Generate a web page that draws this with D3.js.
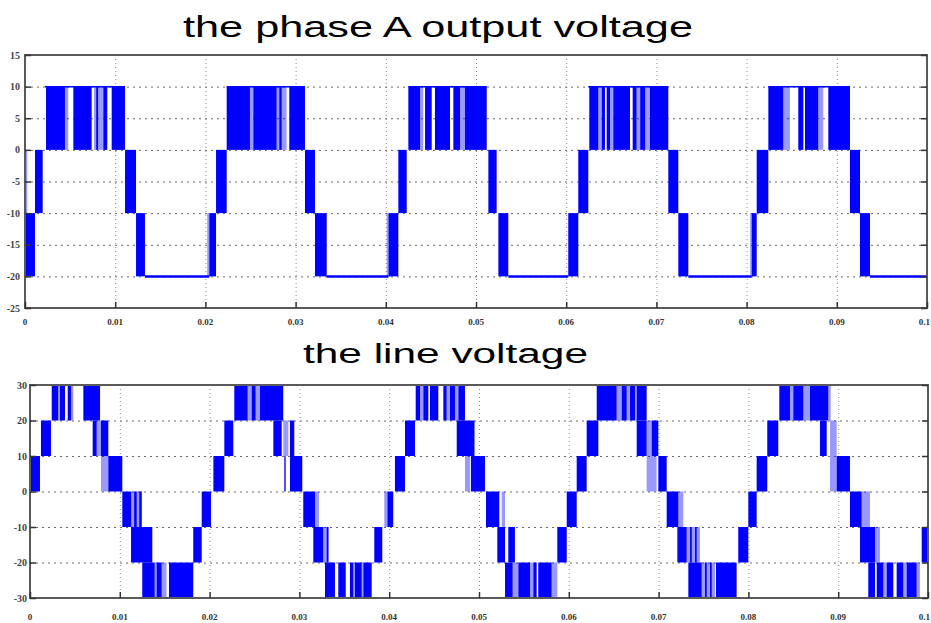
<!DOCTYPE html>
<html><head><meta charset="utf-8">
<script src="https://cdn.jsdelivr.net/npm/d3@7/dist/d3.min.js"></script>
<style>body{margin:0;background:#fff}svg{display:block}</style>
</head><body>
<svg id="c" width="931" height="623"></svg>
<script>
// ---------- shared ticks ----------
const xTickValues = [0,10,20,30,40,50,60,70,80,90,100]; // ms
const xTickLabels = ["0","0.01","0.02","0.03","0.04","0.05","0.06","0.07","0.08","0.09","0.1"];
const phaseYTicks = [15,10,5,0,-5,-10,-15,-20,-25];
const lineYTicks = [30,20,10,0,-10,-20,-30];

// ---------- phase A output voltage (ms, lo, hi) ----------
const phaseSolid = [
 [0.1,1.11,-20,-10],[1.11,1.96,-10,0],[2.33,4.43,0,10],[5.36,7.39,0,10],[7.9,8.1,0,10],[8.68,9.12,0,10],[9.61,11.09,0,10],[11.09,12.31,-10,0],[12.31,13.3,-20,-10],
 [20.43,21.18,-20,-10],[21.18,22.36,-10,0],[22.36,24.94,0,10],[25.31,27.9,0,10],[28.2,28.45,0,10],[29.3,31.04,0,10],[31.04,32.15,-10,0],[32.15,33.45,-20,-10],
 [40.3,41.39,-20,-10],[41.39,42.32,-10,0],[42.5,43.8,0,10],[44.35,45.09,0,10],[45.45,47.12,0,10],[47.49,48.23,0,10],[48.78,51.19,0,10],[51.37,52.29,-10,0],[52.48,53.58,-20,-10],
 [60.23,61.34,-20,-10],[61.34,62.45,-10,0],[62.56,63.56,0,10],[63.94,64.3,0,10],[64.49,64.86,0,10],[65.22,67.07,0,10],[67.37,67.81,0,10],[68.2,68.76,0,10],[69.29,71.32,0,10],[71.32,72.43,-10,0],[72.43,73.54,-20,-10],
 [80.56,81.12,-20,-10],[81.12,82.41,-10,0],[82.41,84.07,0,10],[85.73,86.29,0,10],[86.47,87.95,0,10],[89.06,91.46,0,10],[91.46,92.57,-10,0],[92.57,93.68,-20,-10]
];
const phaseLight = [
 [0,0.25,-10,0],[4.43,4.8,0,10],[7.65,8.68,0,10],[20.2,20.43,-20,-10],[24.94,25.31,0,10],[27.9,29.0,0,10],
 [40.1,40.3,-20,-10],[43.8,44.15,0,10],[48.23,48.78,0,10],[63.56,63.94,0,10],[64.86,65.22,0,10],[67.81,68.2,0,10],[68.76,69.29,0,10],
 [80.4,80.56,-20,-10],[84.07,84.8,0,10],[87.95,88.5,0,10]
];
const phaseLow = [[13.3,20.43],[33.45,40.3],[53.58,60.23],[73.54,80.56],[93.68,100]]; // at -20
const phaseHigh = [[2.22,11.09],[22.36,31.04],[42.5,51.19],[62.45,71.32],[82.41,91.46]]; // at 10

// ---------- line voltage (ms, lo, hi) ----------
const lineSolid = [
 [0,1.11,0,10],[1.22,2.34,10,20],[2.42,3.14,20,30],[3.34,3.9,20,30],[4.2,4.57,20,30],[5.94,7.8,20,30],[6.98,7.43,10,20],[7.9,8.72,10,20],[8.72,10.28,0,10],
 [10.28,11.28,-10,0],[11.6,11.88,-10,0],[12.17,12.44,-10,0],[11.25,13.62,-20,-10],[12.5,13.89,-30,-20],[14.1,14.67,-30,-20],[15.48,18.18,-30,-20],[18.18,19.12,-20,-10],[19.12,20.16,-10,0],
 [20.42,21.64,0,10],[21.64,22.64,10,20],[22.75,24.24,20,30],[24.68,25.13,20,30],[25.61,28.2,20,30],[27.1,28.03,10,20],[28.95,29.43,10,20],[28.32,28.47,0,10],[28.95,30.32,0,10],
 [30.43,31.74,-10,0],[31.55,32.66,-20,-10],[33.04,33.22,-20,-10],[32.85,33.96,-30,-20],[34.33,35.16,-30,-20],[35.63,36.0,-30,-20],[36.19,36.94,-30,-20],[37.12,38.05,-30,-20],[38.34,39.23,-20,-10],[39.8,40.45,-10,0],
 [40.64,41.76,0,10],[41.76,42.87,10,20],[42.95,43.43,20,30],[43.8,44.36,20,30],[44.54,45.47,20,30],[46.03,46.4,20,30],[46.77,47.33,20,30],[47.7,48.44,20,30],[47.52,49.5,10,20],[49.1,50.67,0,10],
 [50.78,52.26,-10,0],[52.04,52.9,-20,-10],[53.26,54.0,-20,-10],[52.9,53.75,-30,-20],[54.38,55.68,-30,-20],[56.05,56.42,-30,-20],[56.6,58.09,-30,-20],[58.72,59.77,-20,-10],[59.77,60.88,-10,0],
 [60.88,61.99,0,10],[61.99,63.29,10,20],[63.11,65.33,20,30],[65.89,66.45,20,30],[66.82,67.37,20,30],[67.56,68.67,20,30],[67.56,68.67,10,20],[69.23,69.97,10,20],[69.97,70.9,0,10],
 [70.9,72.2,-10,0],[72.09,73.13,-20,-10],[73.5,73.69,-20,-10],[74.06,74.24,-20,-10],[73.31,74.8,-30,-20],[75.17,75.36,-30,-20],[75.73,75.91,-30,-20],[76.39,78.69,-30,-20],[78.87,79.99,-20,-10],[79.99,80.92,-10,0],
 [80.92,82.1,0,10],[82.1,83.33,10,20],[83.44,84.63,20,30],[85.0,86.12,20,30],[86.86,88.9,20,30],[87.97,88.72,10,20],[89.83,91.31,0,10],
 [91.31,92.61,-10,0],[92.43,94.1,-20,-10],[93.35,94.1,-30,-20],[94.29,95.03,-30,-20],[95.4,96.14,-30,-20],[96.51,97.25,-30,-20],[97.62,98.74,-30,-20],[99.3,100,-20,-10]
];
const lineLight = [
 [3.14,3.34,20,30],[4.57,4.82,20,30],[7.43,7.9,10,20],[7.9,8.72,0,10],[11.28,12.43,-10,0],[13.89,14.1,-30,-20],[14.67,15.2,-30,-20],
 [24.24,24.68,20,30],[25.13,25.61,20,30],[28.2,28.77,10,20],[31.74,32.18,-10,0],[32.66,33.3,-20,-10],[36.0,36.19,-30,-20],[36.94,37.12,-30,-20],[39.45,39.8,-10,0],
 [43.43,43.8,20,30],[46.4,46.77,20,30],[47.33,47.7,20,30],[48.44,49.0,0,10],[52.53,52.9,-10,0],[53.75,54.38,-30,-20],[55.68,56.05,-30,-20],[58.09,58.72,-30,-20],
 [65.33,65.89,20,30],[66.45,66.82,20,30],[67.37,67.56,20,30],[68.67,69.23,10,20],[68.67,69.78,0,10],[72.2,72.75,-10,0],[73.13,74.61,-20,-10],[74.8,76.28,-30,-20],
 [84.63,85.0,20,30],[86.12,86.86,20,30],[88.9,89.16,20,30],[89.09,89.83,10,20],[89.09,89.83,0,10],[92.61,93.54,-10,0],[94.1,94.65,-20,-10],[95.03,95.4,-30,-20],[97.25,97.62,-30,-20],[98.74,99.1,-30,-20]
];

// ---------- drawing ----------
const svg = d3.select("#c");
const BLUE = "#0000ff";

function panel(cfg){
  const {x, y, yTicks, solid, light, xLabelY, yLabelX, yFont} = cfg;
  const g = svg.append("g");
  const [x0, x1] = x.range(), [yb, yt] = y.range();
  // grid
  g.append("g").attr("transform", `translate(0,${yb})`)
    .call(d3.axisBottom(x).tickValues(xTickValues).tickSize(-(yb-yt)).tickFormat(""))
    .call(s => { s.select(".domain").remove(); s.selectAll("line").attr("stroke","#8a8a8a").attr("stroke-dasharray","1,3"); });
  g.append("g").attr("transform", `translate(${x0},0)`)
    .call(d3.axisLeft(y).tickValues(yTicks).tickSize(-(x1-x0)).tickFormat(""))
    .call(s => { s.select(".domain").remove(); s.selectAll("line").attr("stroke","#6a6a6a").attr("stroke-dasharray","2,4"); });
  // bands
  g.append("g").selectAll("rect").data(light).join("rect")
    .attr("x", d => x(d[0])).attr("width", d => Math.max(0.8, x(d[1]) - x(d[0])))
    .attr("y", d => y(d[3])).attr("height", d => y(d[2]) - y(d[3]))
    .attr("fill", BLUE).attr("fill-opacity", 0.4);
  g.append("g").selectAll("rect").data(solid).join("rect")
    .attr("x", d => x(d[0])).attr("width", d => Math.max(1, x(d[1]) - x(d[0])))
    .attr("y", d => y(d[3])).attr("height", d => y(d[2]) - y(d[3]))
    .attr("fill", BLUE);
  if (cfg.extra) cfg.extra(g);
  // frame
  g.append("rect").attr("x", x0).attr("y", yt).attr("width", x1-x0).attr("height", yb-yt)
    .attr("fill","none").attr("stroke","#5a5a5a").attr("stroke-width",2);
  // inward ticks
  g.append("g").attr("transform", `translate(${x0},0)`)
    .call(d3.axisLeft(y).tickValues(yTicks).tickSize(-6).tickFormat(""))
    .call(s => { s.select(".domain").remove(); s.selectAll("line").attr("stroke","#333").attr("stroke-width",1.5); });
  g.append("g").attr("transform", `translate(${x1},0)`)
    .call(d3.axisRight(y).tickValues(yTicks).tickSize(-6).tickFormat(""))
    .call(s => { s.select(".domain").remove(); s.selectAll("line").attr("stroke","#333").attr("stroke-width",1.5); });
  g.append("g").attr("transform", `translate(0,${yb})`)
    .call(d3.axisBottom(x).tickValues(xTickValues).tickSize(-6).tickFormat(""))
    .call(s => { s.select(".domain").remove(); s.selectAll("line").attr("stroke","#333").attr("stroke-width",1.5); });
  // labels
  g.append("g").selectAll("text").data(yTicks).join("text")
    .attr("x", yLabelX).attr("y", d => y(d)).attr("dy","0.35em").attr("text-anchor","end")
    .attr("font-family","Liberation Serif").attr("font-size", yFont).attr("font-weight","bold").attr("fill","#444")
    .text(d => String(d));
  const last = xTickValues.length - 1;
  g.append("g").selectAll("text").data(xTickValues).join("text")
    .attr("x", (d,i) => i === last ? 930 : x(d)).attr("y", xLabelY)
    .attr("text-anchor", (d,i) => i === last ? "end" : "middle")
    .attr("font-family","Liberation Serif").attr("font-size", 9).attr("font-weight","bold").attr("fill","#333")
    .text((d,i) => xTickLabels[i]);
}

const xA = d3.scaleLinear().domain([0,100]).range([25,927]);
const yA = d3.scaleLinear().domain([-25,15]).range([308,55]);
panel({x:xA, y:yA, yTicks:phaseYTicks, solid:phaseSolid, light:phaseLight, xLabelY:325, yLabelX:20, yFont:10,
  extra: g => {
    g.append("g").selectAll("line").data(phaseLow).join("line")
      .attr("x1", d => xA(d[0])).attr("x2", d => xA(d[1])).attr("y1", yA(-20)).attr("y2", yA(-20))
      .attr("stroke", BLUE).attr("stroke-width", 2.5);
    g.append("g").selectAll("line").data(phaseHigh).join("line")
      .attr("x1", d => xA(d[0])).attr("x2", d => xA(d[1])).attr("y1", yA(10)).attr("y2", yA(10))
      .attr("stroke", BLUE).attr("stroke-width", 1.5);
  }});

const xB = d3.scaleLinear().domain([0,100]).range([30,928]);
const yB = d3.scaleLinear().domain([-30,30]).range([598,385]);
panel({x:xB, y:yB, yTicks:lineYTicks, solid:lineSolid, light:lineLight, xLabelY:620, yLabelX:27, yFont:10});

// titles
svg.append("text").attr("x",183).attr("y",37).attr("font-family","Liberation Sans").attr("font-size",30)
  .attr("textLength",510).attr("lengthAdjust","spacingAndGlyphs").attr("fill","#000").text("the phase A output voltage");
svg.append("text").attr("x",303).attr("y",363).attr("font-family","Liberation Sans").attr("font-size",27)
  .attr("textLength",285).attr("lengthAdjust","spacingAndGlyphs").attr("fill","#000").text("the line voltage");
</script>
</body></html>
